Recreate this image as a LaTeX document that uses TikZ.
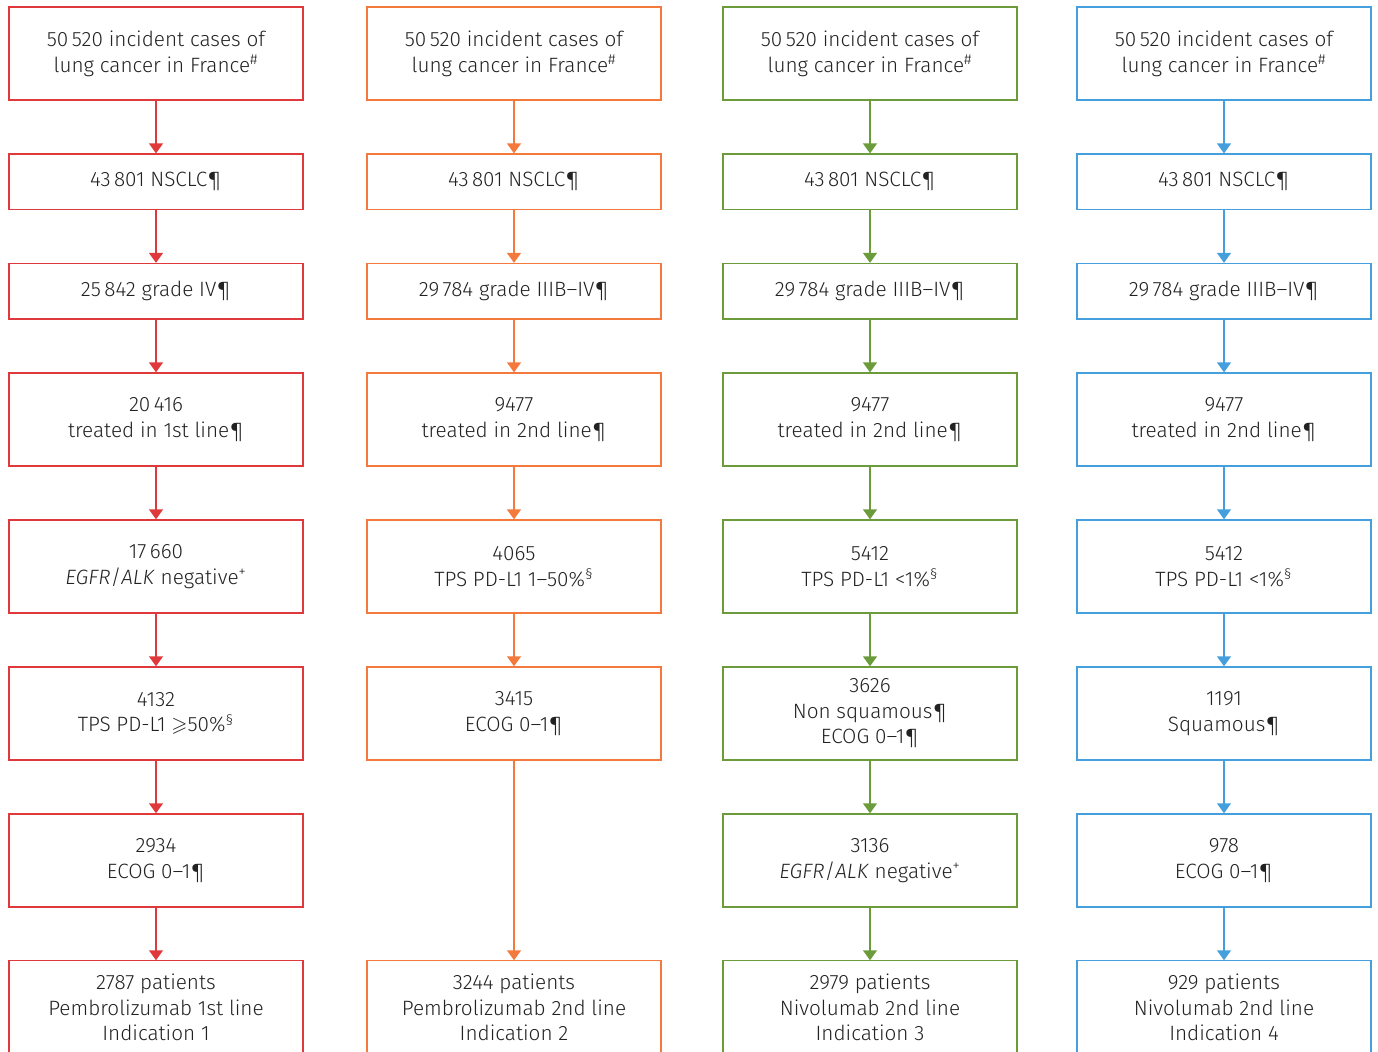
\documentclass[tikz,border=0pt]{standalone}
\usepackage{fontspec}
\setmainfont{Fira Sans Light}[ItalicFont={Fira Sans Light Italic}]
\usepackage{amssymb}
\usetikzlibrary{arrows.meta,positioning}

\definecolor{flowRed}{HTML}{E0393B}
\definecolor{flowOrange}{HTML}{F37A3C}
\definecolor{flowGreen}{HTML}{6B9B3A}
\definecolor{flowBlue}{HTML}{459FDC}
\definecolor{flowText}{HTML}{222222}

\newcommand{\fnote}[1]{\textsuperscript{#1}}

\begin{document}
\begin{tikzpicture}[
  node distance=1.055cm,
  flowbox/.style={
    draw,
    line width=0.7pt,
    minimum width=5.88cm,
    minimum height=1.86cm,
    inner sep=2pt,
    align=center,
    text=flowText,
    font=\fontsize{11.8}{14.6}\selectfont
  },
  short/.style={minimum height=1.11cm},
  redbox/.style={flowbox, draw=flowRed},
  orangebox/.style={flowbox, draw=flowOrange},
  greenbox/.style={flowbox, draw=flowGreen},
  bluebox/.style={flowbox, draw=flowBlue},
  seq/.style={
    -{Triangle[length=2mm,width=2.8mm]},
    line width=0.85pt
  }
]

\useasboundingbox (0,0) rectangle (27.56,-21.04);

% Column 1: Pembrolizumab 1st line
\node[redbox] (r1) at (3.12,-1.07)
  {50\,520 incident cases of\\lung cancer in France\fnote{\#}};
\node[redbox, short, below=of r1] (r2) {43\,801 NSCLC¶};
\node[redbox, short, below=of r2] (r3) {25\,842 grade IV¶};
\node[redbox, below=of r3] (r4) {20\,416\\treated in 1st line¶};
\node[redbox, below=of r4] (r5)
  {17\,660\\\textit{EGFR}/\textit{ALK} negative\fnote{+}};
\node[redbox, below=of r5] (r6)
  {4132\\TPS PD-L1 $\geqslant$50\%\fnote{§}};
\node[redbox, below=of r6] (r7) {2934\\ECOG 0–1¶};
\node[redbox, below=of r7] (r8)
  {2787 patients\\Pembrolizumab 1st line\\Indication 1};

% Column 2: Pembrolizumab 2nd line
\node[orangebox] (o1) at (10.28,-1.07)
  {50\,520 incident cases of\\lung cancer in France\fnote{\#}};
\node[orangebox, short, below=of o1] (o2) {43\,801 NSCLC¶};
\node[orangebox, short, below=of o2] (o3) {29\,784 grade IIIB–IV¶};
\node[orangebox, below=of o3] (o4) {9477\\treated in 2nd line¶};
\node[orangebox, below=of o4] (o5) {4065\\TPS PD-L1 1–50\%\fnote{§}};
\node[orangebox, below=of o5] (o6) {3415\\ECOG 0–1¶};
\node[orangebox] (o8) at (o6 |- r8)
  {3244 patients\\Pembrolizumab 2nd line\\Indication 2};

% Column 3: Nivolumab 2nd line, non squamous
\node[greenbox] (g1) at (17.40,-1.07)
  {50\,520 incident cases of\\lung cancer in France\fnote{\#}};
\node[greenbox, short, below=of g1] (g2) {43\,801 NSCLC¶};
\node[greenbox, short, below=of g2] (g3) {29\,784 grade IIIB–IV¶};
\node[greenbox, below=of g3] (g4) {9477\\treated in 2nd line¶};
\node[greenbox, below=of g4] (g5) {5412\\TPS PD-L1 <1\%\fnote{§}};
\node[greenbox, below=of g5] (g6) {3626\\Non squamous¶\\ECOG 0–1¶};
\node[greenbox, below=of g6] (g7)
  {3136\\\textit{EGFR}/\textit{ALK} negative\fnote{+}};
\node[greenbox, below=of g7] (g8)
  {2979 patients\\Nivolumab 2nd line\\Indication 3};

% Column 4: Nivolumab 2nd line, squamous
\node[bluebox] (b1) at (24.48,-1.07)
  {50\,520 incident cases of\\lung cancer in France\fnote{\#}};
\node[bluebox, short, below=of b1] (b2) {43\,801 NSCLC¶};
\node[bluebox, short, below=of b2] (b3) {29\,784 grade IIIB–IV¶};
\node[bluebox, below=of b3] (b4) {9477\\treated in 2nd line¶};
\node[bluebox, below=of b4] (b5) {5412\\TPS PD-L1 <1\%\fnote{§}};
\node[bluebox, below=of b5] (b6) {1191\\Squamous¶};
\node[bluebox, below=of b6] (b7) {978\\ECOG 0–1¶};
\node[bluebox, below=of b7] (b8)
  {929 patients\\Nivolumab 2nd line\\Indication 4};

% Arrows
\draw[seq, flowRed] (r1) -- (r2);
\draw[seq, flowRed] (r2) -- (r3);
\draw[seq, flowRed] (r3) -- (r4);
\draw[seq, flowRed] (r4) -- (r5);
\draw[seq, flowRed] (r5) -- (r6);
\draw[seq, flowRed] (r6) -- (r7);
\draw[seq, flowRed] (r7) -- (r8);

\draw[seq, flowOrange] (o1) -- (o2);
\draw[seq, flowOrange] (o2) -- (o3);
\draw[seq, flowOrange] (o3) -- (o4);
\draw[seq, flowOrange] (o4) -- (o5);
\draw[seq, flowOrange] (o5) -- (o6);
\draw[seq, flowOrange] (o6) -- (o8);

\draw[seq, flowGreen] (g1) -- (g2);
\draw[seq, flowGreen] (g2) -- (g3);
\draw[seq, flowGreen] (g3) -- (g4);
\draw[seq, flowGreen] (g4) -- (g5);
\draw[seq, flowGreen] (g5) -- (g6);
\draw[seq, flowGreen] (g6) -- (g7);
\draw[seq, flowGreen] (g7) -- (g8);

\draw[seq, flowBlue] (b1) -- (b2);
\draw[seq, flowBlue] (b2) -- (b3);
\draw[seq, flowBlue] (b3) -- (b4);
\draw[seq, flowBlue] (b4) -- (b5);
\draw[seq, flowBlue] (b5) -- (b6);
\draw[seq, flowBlue] (b6) -- (b7);
\draw[seq, flowBlue] (b7) -- (b8);

\end{tikzpicture}
\end{document}
